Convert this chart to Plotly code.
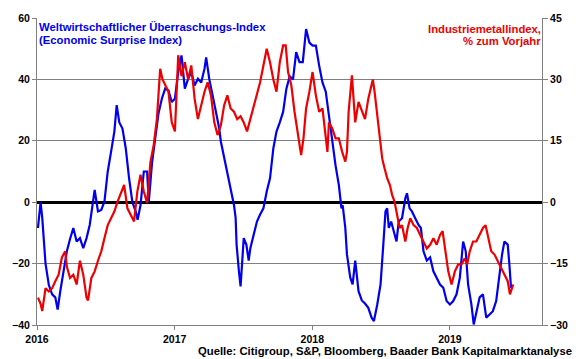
import plotly.graph_objects as go

# Economic Surprise Index (left axis)
esi_t = [2016.007,2016.026,2016.038,2016.062,2016.086,2016.110,2016.133,2016.150,2016.169,2016.193,
         2016.217,2016.240,2016.264,2016.288,2016.312,2016.336,2016.360,2016.383,2016.402,2016.419,
         2016.443,2016.467,2016.490,2016.514,2016.538,2016.562,2016.579,2016.598,2016.621,2016.645,
         2016.669,2016.693,2016.717,2016.731,2016.752,2016.776,2016.800,2016.812,2016.836,2016.860,
         2016.883,2016.907,2016.931,2016.955,2016.979,2017.002,2017.026,2017.050,2017.074,2017.098,
         2017.121,2017.145,2017.169,2017.193,2017.217,2017.229,2017.252,2017.276,2017.300,2017.324,
         2017.336,2017.360,2017.383,2017.407,2017.431,2017.443,2017.450,2017.467,2017.479,2017.490,
         2017.502,2017.521,2017.538,2017.550,2017.574,2017.598,2017.621,2017.645,2017.669,2017.693,
         2017.717,2017.740,2017.764,2017.788,2017.812,2017.836,2017.860,2017.883,2017.907,2017.931,
         2017.955,2017.979,2018.002,2018.026,2018.050,2018.074,2018.098,2018.121,2018.145,2018.169,
         2018.193,2018.212,2018.221,2018.240,2018.252,2018.276,2018.293,2018.312,2018.336,2018.360,
         2018.383,2018.407,2018.431,2018.448,2018.472,2018.496,2018.516,2018.532,2018.544,2018.556,
         2018.573,2018.592,2018.612,2018.628,2018.652,2018.676,2018.688,2018.707,2018.724,2018.748,
         2018.772,2018.789,2018.808,2018.832,2018.856,2018.880,2018.904,2018.928,2018.952,2018.976,
         2019.000,2019.024,2019.048,2019.072,2019.096,2019.115,2019.132,2019.156,2019.173,2019.192,
         2019.216,2019.240,2019.264,2019.288,2019.312,2019.336,2019.360,2019.379,2019.396,2019.420,
         2019.432,2019.444]
esi_v = [-8.4,0,-5,-20,-27,-30,-31,-35,-29,-22,
         -16,-12,-8.4,-12.8,-11.7,-15,-11.7,-7.4,-0.9,4,
         -3,-2.5,0.2,10,16.4,23,31.6,26,24,17.5,
         7.8,0,-3,-5.7,-1,10,10,0,13,20.8,
         29,33.7,37,36.4,32.6,33.7,42.4,47.8,37,40.2,
         42.4,38,40.2,39,43.5,47.2,40,34.8,29.4,24,
         19.7,14.3,8.9,4.5,-0.9,-5,-13.8,-22.5,-27.4,-20,
         -11.7,-13.8,-19,-15,-10.6,-6.3,-4,-2,3.5,7.8,
         17.5,23,26,29.4,37,41,40,48.9,45.6,45.6,
         56.4,52,51,51,44.5,39,36,28,20.8,12,
         5.6,-2,-1,-8.4,-17,-24.6,-26.8,-19,-29,-32,
         -33,-34.4,-37.6,-38.7,-33.3,-26.8,-13.8,-3,-2,-8.4,
         -6.3,-9.5,-12.8,-6.3,-5.2,1.3,2.9,-2,-3,-5.2,
         -7.4,-8.4,-16,-19,-18,-22.5,-24.6,-26.8,-27.9,-32.2,
         -33.3,-32.2,-30,-24.6,-12.8,-16,-26.8,-33.3,-39.8,-35.5,
         -31,-30,-37.6,-36.6,-35.5,-32.2,-22.5,-17,-12.8,-13.8,
         -20.3,-27.9]

# Industrial metals index, % y/y (right axis)
met_t = [2016.007,2016.026,2016.038,2016.062,2016.086,2016.110,2016.133,2016.157,2016.181,2016.205,
         2016.217,2016.240,2016.264,2016.288,2016.312,2016.336,2016.360,2016.371,2016.395,2016.419,
         2016.443,2016.467,2016.490,2016.514,2016.538,2016.562,2016.586,2016.610,2016.633,2016.657,
         2016.681,2016.705,2016.729,2016.752,2016.776,2016.800,2016.824,2016.848,2016.871,2016.895,
         2016.912,2016.931,2016.955,2016.979,2017.002,2017.026,2017.050,2017.074,2017.098,2017.121,
         2017.145,2017.169,2017.193,2017.217,2017.240,2017.264,2017.288,2017.312,2017.336,2017.360,
         2017.383,2017.407,2017.431,2017.455,2017.479,2017.502,2017.526,2017.550,2017.574,2017.598,
         2017.621,2017.645,2017.669,2017.693,2017.717,2017.740,2017.764,2017.788,2017.807,2017.824,
         2017.848,2017.871,2017.895,2017.919,2017.936,2017.955,2017.979,2018.002,2018.026,2018.050,
         2018.074,2018.098,2018.110,2018.121,2018.145,2018.169,2018.193,2018.217,2018.240,2018.252,
         2018.264,2018.288,2018.312,2018.336,2018.360,2018.383,2018.407,2018.431,2018.440,2018.453,
         2018.472,2018.491,2018.508,2018.525,2018.544,2018.564,2018.580,2018.597,2018.616,2018.635,
         2018.652,2018.676,2018.693,2018.712,2018.736,2018.760,2018.784,2018.808,2018.832,2018.856,
         2018.880,2018.904,2018.928,2018.947,2018.964,2018.988,2019.012,2019.036,2019.060,2019.084,
         2019.108,2019.125,2019.144,2019.168,2019.192,2019.216,2019.240,2019.259,2019.276,2019.300,
         2019.324,2019.348,2019.372,2019.396,2019.420,2019.436,2019.451,2019.460]
met_v = [-23.3,-24.8,-26.6,-21,-21.8,-21,-19.3,-17.7,-13.5,-12,
         -15.8,-18.5,-17.7,-20.1,-14.3,-17.7,-23.3,-24,-18.5,-16.9,
         -14.3,-12,-8.8,-5.6,-3.9,-2.3,0.2,2.3,4.2,-1.5,
         -3,-4.7,2.6,6.7,2.6,-0.2,9.8,14,20.3,32.6,
         30,28.5,27,19.5,17.3,35.9,30.8,34.2,30,33.4,
         25.3,20.3,24,27,29.3,26.1,19.5,16.4,18.8,23.7,
         26.1,22.9,22.1,20.3,21,19.5,17.3,20.3,23.7,27,
         29.3,33.4,37.5,34.2,30,27,34.2,38.3,38.3,31.8,
         28.5,22.1,16.4,11.5,15.6,22.9,27,31.8,26.1,22.1,
         22.9,15.6,12.3,19.5,18,15.6,15.6,12.3,9.9,12.3,
         22.1,31,19.5,24.5,22.1,20.3,25.3,29.3,30,26.9,
         21.2,15.6,10.7,8.3,5.9,4.2,1.8,0.2,-3.1,-6.3,
         -5.6,-9.6,-6.3,-3.9,-5.6,-6.3,-8,-9.6,-11.3,-10.4,
         -8.8,-10.4,-8,-7.1,-11.3,-16.9,-20.1,-16.9,-15.2,-15.2,
         -13.7,-15.2,-12,-9.6,-9.6,-8,-6.3,-5.6,-8,-12,
         -12.8,-14.4,-16.1,-17.7,-19.3,-22.5,-20.9,-20.1]

year_ticks = [2016, 2017, 2018, 2019]
year_labels = ["2016", "2017", "2018", "2019"]
left_ticks = [-40, -20, 0, 20, 40, 60]
right_ticks = [-30, -15, 0, 15, 30, 45]

FONT = "Liberation Sans, Arial, sans-serif"
BLUE = "#0000ee"
RED = "#ee0000"
TICKFONT = dict(family=FONT, size=10.5, weight="bold", color="black")

fig = go.Figure()
fig.add_trace(go.Scatter(x=met_t, y=met_v, mode="lines", yaxis="y2",
                         line=dict(color=RED, width=2.2), showlegend=False, hoverinfo="skip"))
fig.add_trace(go.Scatter(x=esi_t, y=esi_v, mode="lines", yaxis="y",
                         line=dict(color=BLUE, width=2.2), showlegend=False, hoverinfo="skip"))

def ann(text, x, xanchor, yshift, xshift, color, size=11.3):
    return dict(text="<b>" + text + "</b>", xref="paper", yref="paper", x=x, y=1,
                xanchor=xanchor, yanchor="middle", xshift=xshift, yshift=yshift,
                showarrow=False, font=dict(family=FONT, size=size, color=color))

fig.update_layout(
    width=580, height=359,
    margin=dict(l=33, r=37, t=15, b=34),
    paper_bgcolor="white", plot_bgcolor="white",
    font=dict(family=FONT, size=12, color="black"),
    xaxis=dict(range=[2016, 2019.669], tickvals=year_ticks, ticktext=year_labels,
               showgrid=False, zeroline=False, showline=True, linecolor="#808080", linewidth=1,
               ticks="outside", ticklen=4, tickcolor="#808080", tickfont=TICKFONT),
    yaxis=dict(range=[-40, 60], tickvals=left_ticks, showgrid=True, gridcolor="#808080", gridwidth=1,
               zeroline=True, zerolinecolor="black", zerolinewidth=3,
               showline=True, linecolor="#808080", linewidth=1,
               ticks="outside", ticklen=4, tickcolor="#808080", tickfont=TICKFONT),
    yaxis2=dict(range=[-30, 45], tickvals=right_ticks, overlaying="y", side="right",
                showgrid=False, zeroline=False, showline=True, linecolor="#808080", linewidth=1,
                ticks="outside", ticklen=5, tickcolor="#808080", tickfont=TICKFONT),
    annotations=[
        ann("Weltwirtschaftlicher Überraschungs-Index", 0, "left", -9, 0, BLUE),
        ann("(Economic Surprise Index)", 0, "left", -22, 0, BLUE),
        ann("Industriemetallindex,", 1, "right", -11, 1, RED),
        ann("% zum Vorjahr", 1, "right", -23, 1, RED),
        dict(text="<b>Quelle: Citigroup, S&P, Bloomberg, Baader Bank Kapitalmarktanalyse</b>",
             xref="paper", yref="paper", x=1, y=0, xanchor="right", yanchor="middle",
             xshift=32, yshift=-26, showarrow=False,
             font=dict(family=FONT, size=11.3, color="black")),
    ],
)

fig.write_html("out.html", config={"displayModeBar": False, "staticPlot": True},
               post_script="document.body.style.margin='0';document.body.style.overflow='hidden';")
